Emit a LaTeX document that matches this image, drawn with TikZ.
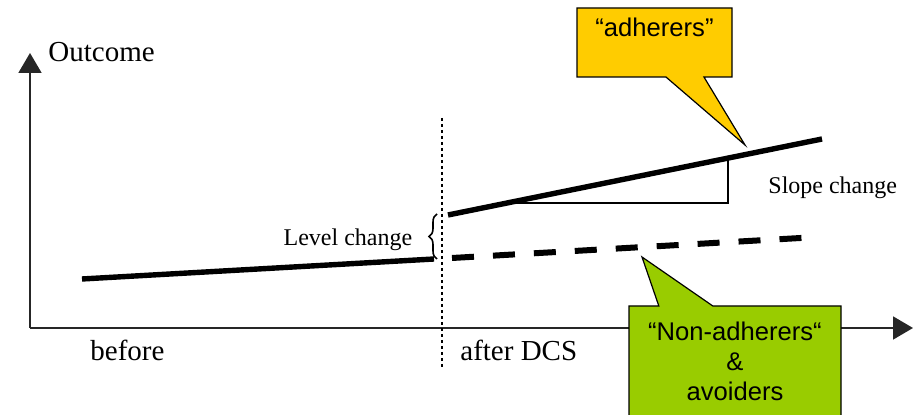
\documentclass[tikz,border=0pt]{standalone}
\usepackage{fontspec}
\setmainfont{Liberation Serif}
\setsansfont{Liberation Sans}
\usetikzlibrary{arrows.meta, shapes.callouts, decorations.pathreplacing, positioning}
\definecolor{adhyellow}{HTML}{FFCC00}
\definecolor{nonadhgreen}{HTML}{99CC00}

\begin{document}
\begin{tikzpicture}[
        x=0.5pt, y=-0.5pt,
        axis/.style={-{Triangle[length=10pt, width=11.5pt]}, line width=0.9pt, draw=black!85},
        trend/.style={line width=2.7pt, draw=black},
        axislabel/.style={font=\fontsize{14.5}{17}\selectfont, inner sep=0pt},
        notelabel/.style={font=\fontsize{12}{14}\selectfont, inner sep=0pt},
        bubble/.style={rectangle callout, draw=black, line width=0.6pt, font=\sffamily\fontsize{12.8}{15}\selectfont, align=center, inner sep=0pt}
    ]
    \clip (0,0) rectangle (916,415);
    \useasboundingbox (0,0) rectangle (916,415);

    % The Axes
    \coordinate (origin) at (30,328);
    \coordinate (ytop) at (30,53);
    \coordinate (xend) at (913,328);
    \draw [axis] (origin) -- (ytop);
    \draw [axis] (origin) -- (xend);

    \node (outcome) [axislabel, anchor=west] at (48,52) {Outcome};
    \node (before) [axislabel, anchor=west] at (90,350) {before};
    \node (after) [axislabel, anchor=west] at (460,350) {after DCS};

    % The Intervention Line
    \coordinate (dcs top) at (442,118);
    \coordinate (dcs bottom) at (442,368);
    \draw [line width=0.9pt, dash pattern=on 1.5pt off 1.5pt] (dcs top) -- (dcs bottom);

    % The Trend Lines
    \coordinate (pre start) at (82,279);
    \coordinate (pre end) at (434,259);
    \coordinate (adh start) at (448,215);
    \coordinate (adh end) at (822,139);
    \coordinate (non start) at (452,258);
    \coordinate (non end) at (818,237);
    \draw [trend] (pre start) -- (pre end);
    \draw [trend] (adh start) -- (adh end);
    \draw [trend, line width=3pt, dash pattern=on 11pt off 9.5pt] (non start) -- (non end);

    % Slope and Level Change
    \draw [line width=0.6pt] (507,203) -- (728,203) -- (728,158);
    \node (slope) [notelabel, anchor=west] at (768,188) {Slope change};

    \draw [decorate, decoration={brace, amplitude=4pt}, line width=0.8pt] (437,259) -- (437,214)
        node (level) [notelabel, midway, left=12pt, yshift=-1.5pt] {Level change};

    % The Callouts
    \node (adherers) [bubble, fill=adhyellow, minimum width=77.5pt, minimum height=34.5pt,
        callout absolute pointer={(745,145)}, callout pointer width=19pt] at (654.5,42.5) {“adherers”\\~};

    \node (nonadherers) [bubble, fill=nonadhgreen, minimum width=106pt, minimum height=55pt,
        callout absolute pointer={(642,257)}, callout pointer width=27pt] at (735,361)
        {“Non-adherers“\\\&\\avoiders};

    \end{tikzpicture}
\end{document}
